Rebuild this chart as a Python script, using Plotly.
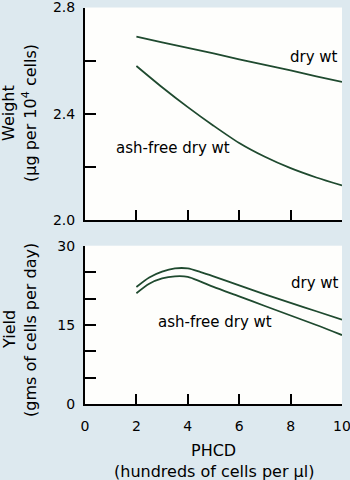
import plotly.graph_objects as go

# ---- data ----
x_top = [2, 3, 4, 5, 6, 7, 8, 9, 10]
weight_dry = [2.69, 2.669, 2.648, 2.627, 2.605, 2.584, 2.563, 2.541, 2.52]
weight_ashfree = [2.58, 2.50, 2.425, 2.355, 2.29, 2.238, 2.195, 2.16, 2.13]

x_bot = [2, 2.5, 3, 3.5, 4, 4.5, 5, 6, 7, 8, 9, 10]
yield_dry = [22.2, 24.0, 25.1, 25.7, 25.7, 25.0, 24.2, 22.5, 20.8, 19.2, 17.6, 16.0]
yield_ashfree = [21.0, 22.8, 23.8, 24.2, 24.1, 23.2, 22.2, 20.4, 18.6, 16.8, 15.0, 13.1]

x_ticks = [0, 2, 4, 6, 8, 10]
w_ticks = [2.0, 2.2, 2.4, 2.6, 2.8]
w_labels = ["2.0", "", "2.4", "", "2.8"]
y_ticks = [0, 5, 10, 15, 20, 25, 30]
y_labels = ["0", "", "", "15", "", "", "30"]

LINE = "#1f4a2f"
FONT = "DejaVu Sans"
BG = "#dde9ef"

fig = go.Figure()
for xs, ys, xa, ya in [(x_top, weight_dry, "x", "y"), (x_top, weight_ashfree, "x", "y"),
                       (x_bot, yield_dry, "x2", "y2"), (x_bot, yield_ashfree, "x2", "y2")]:
    fig.add_trace(go.Scatter(x=xs, y=ys, mode="lines",
                             line=dict(color=LINE, width=1.8, shape="spline", smoothing=0.8),
                             xaxis=xa, yaxis=ya, showlegend=False, hoverinfo="skip"))

xdom = [85 / 350, 342 / 350]
common_x = dict(range=[0, 10], domain=xdom, showline=True, linecolor="black", linewidth=2,
                ticks="inside", ticklen=10, tickwidth=1.5, tickcolor="black", tickvals=x_ticks,
                showgrid=False, zeroline=False, ticklabeloverflow="allow", automargin=False)
common_y = dict(showline=True, linecolor="black", linewidth=2, ticks="inside", ticklen=11,
                tickwidth=1.5, tickcolor="black", showgrid=False, zeroline=False,
                ticklabeloverflow="allow", automargin=False)

fig.update_layout(
    width=350, height=480,
    margin=dict(l=0, r=0, t=0, b=0, autoexpand=False),
    paper_bgcolor=BG, plot_bgcolor="#fefefc",
    font=dict(family=FONT, size=14, color="black"),
    xaxis=dict(**common_x, anchor="y", showticklabels=False),
    yaxis=dict(**common_y, anchor="x", domain=[1 - 220 / 480, 1 - 7.5 / 480], range=[2.0, 2.8],
               tickvals=w_ticks, ticktext=w_labels, ticklabelstandoff=5),
    xaxis2=dict(**common_x, anchor="y2", ticktext=[str(v) for v in x_ticks], ticklabelstandoff=8),
    yaxis2=dict(**common_y, anchor="x2", domain=[1 - 404.3 / 480, 1 - 245.7 / 480], range=[0, 30],
                tickvals=y_ticks, ticktext=y_labels, ticklabelstandoff=5),
)

ann = []
def lab(x, y, xr, yr, text, size=15, angle=0):
    ann.append(dict(x=x, y=y, xref=xr, yref=yr, text=text, showarrow=False, textangle=angle,
                    xanchor="center", yanchor="middle", font=dict(size=size)))

# series labels (data coords)
lab(8.9, 2.614, "x", "y", "dry wt")
lab(3.42, 2.271, "x", "y", "ash-free dry wt")
lab(8.95, 22.9, "x2", "y2", "dry wt")
lab(5.07, 15.6, "x2", "y2", "ash-free dry wt")
# axis titles
ty = 1 - 113 / 480
by = 1 - 330 / 480
lab(9 / 350, ty, "paper", "paper", "Weight", 16, -90)
lab(30 / 350, ty, "paper", "paper", "(µg per 10<sup>4</sup> cells)", 16, -90)
lab(9 / 350, by, "paper", "paper", "Yield", 16, -90)
lab(30 / 350, by, "paper", "paper", "(gms of cells per day)", 16, -90)
lab(213.5 / 350, 1 - 450 / 480, "paper", "paper", "PHCD", 16)
lab(213.5 / 350, 1 - 471 / 480, "paper", "paper", "(hundreds of cells per µl)", 16)
fig.update_layout(annotations=ann)

fig.write_html("out.html")
